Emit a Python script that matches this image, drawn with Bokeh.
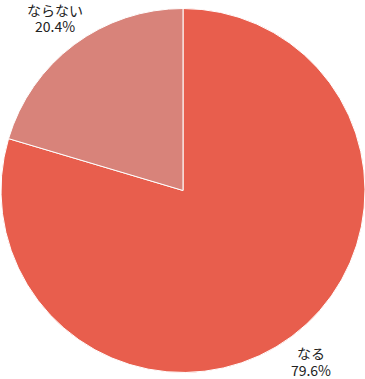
import math
from bokeh.plotting import figure
from bokeh.models import Range1d, ColumnDataSource
from bokeh.core.properties import value
from bokeh.embed import file_html
from bokeh.resources import INLINE

categories = ["なる", "ならない"]
percents = [79.6, 20.4]
colors = ["#E85E4D", "#D8837A"]

W, H = 365, 379
cx, cy, r = 182.5, 189.0, 182.0
label_r = 214.0

starts, ends, lx, ly = [], [], [], []
cum = 0.0
for pct in percents:
    a0 = math.pi / 2 - 2 * math.pi * cum / 100.0
    a1 = math.pi / 2 - 2 * math.pi * (cum + pct) / 100.0
    starts.append(a1)
    ends.append(a0)
    mid = (a0 + a1) / 2
    lx.append(cx + label_r * math.cos(mid))
    ly.append(cy + label_r * math.sin(mid))
    cum += pct

src = ColumnDataSource(dict(
    start=starts, end=ends, color=colors,
    lx=lx, ly=ly, name=categories,
    pct=[f"{p:.1f}%" for p in percents],
))

p = figure(width=W, height=H, output_backend="svg", toolbar_location=None,
           x_range=Range1d(0, W), y_range=Range1d(0, H), min_border=0)
p.axis.visible = False
p.grid.visible = False
p.outline_line_color = None
p.background_fill_color = "white"
p.border_fill_color = "white"

p.wedge(x=cx, y=cy, radius=r, start_angle="start", end_angle="end",
        fill_color="color", line_color="white", line_width=1, source=src)

font = value("Noto Sans CJK JP")
p.text(x="lx", y="ly", text="name", source=src, text_font=font,
       text_font_size="14px", text_color="#222222", text_align="center",
       text_baseline="middle", y_offset=-9)
p.text(x="lx", y="ly", text="pct", source=src, text_font=font,
       text_font_size="14px", text_color="#222222", text_align="center",
       text_baseline="middle", y_offset=7.5)

open("out.html", "w").write(file_html(p, INLINE))
